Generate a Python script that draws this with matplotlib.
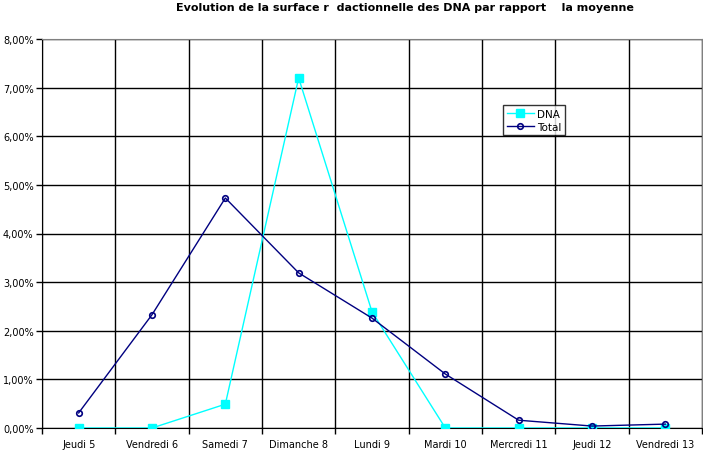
import matplotlib
matplotlib.use("Agg")
import matplotlib.pyplot as plt

plt.rcParams['font.family'] = ['DejaVu Sans']

jours = ['Jeudi 5', 'Vendredi 6', 'Samedi 7', 'Dimanche 8', 'Lundi 9',
         'Mardi 10', 'Mercredi 11', 'Jeudi 12', 'Vendredi 13']
dna = [0.0, 0.0, 0.49, 7.20, 2.39, 0.0, 0.0, 0.0, 0.0]
total = [0.31, 2.33, 4.73, 3.19, 2.26, 1.11, 0.16, 0.04, 0.08]
yticks = [0, 1, 2, 3, 4, 5, 6, 7, 8]

fig = plt.figure(figsize=(7.03, 4.52), dpi=100)
ax = fig.add_axes([42 / 703, 23 / 452, 660 / 703, 389 / 452])

x = list(range(len(jours)))
ax.plot(x, dna, color='#00FFFF', lw=1, marker='s', ms=6,
        mec='#00FFFF', mfc='#00FFFF', label='DNA', zorder=3)
ax.plot(x, total, color='#000080', lw=1, marker='o', ms=4,
        mec='#000080', mfc='none', mew=1.2, label='Total', zorder=4)

ax.set_xlim(-0.5, len(jours) - 0.5)
ax.set_ylim(0, 8)
ax.set_xticks(x)
ax.set_xticklabels(jours, fontsize=7)
ax.set_xticks([i + 0.5 for i in range(-1, len(jours))], minor=True)
ax.tick_params(axis='x', which='major', length=0, pad=8)
ax.tick_params(axis='x', which='minor', length=4, width=1, color='black')
ax.set_yticks(yticks)
ax.set_yticklabels(['%d,00%%' % v for v in yticks], fontsize=7)
ax.tick_params(axis='y', length=4, width=1, pad=2)

ax.grid(True, axis='y', color='black', lw=1)
ax.grid(True, axis='x', which='minor', color='black', lw=1)
ax.set_axisbelow(True)

for side in ['top', 'right']:
    ax.spines[side].set_color('#808080')
for side in ['left', 'bottom']:
    ax.spines[side].set_color('black')

leg = ax.legend(loc='upper left', bbox_to_anchor=(461 / 660, (429 - 106) / 389),
                fontsize=7.5, frameon=True, fancybox=False, handlelength=2.6,
                borderpad=0.35, labelspacing=0.3, handletextpad=0.3, borderaxespad=0)
leg.get_frame().set_edgecolor('black')
leg.get_frame().set_linewidth(1)

fig.text(405 / 703, 1 - 8 / 452,
         'Evolution de la surface r  dactionnelle des DNA par rapport    la moyenne',
         ha='center', va='center', fontsize=8, fontweight='bold')

fig.savefig('out.png', dpi=100)
